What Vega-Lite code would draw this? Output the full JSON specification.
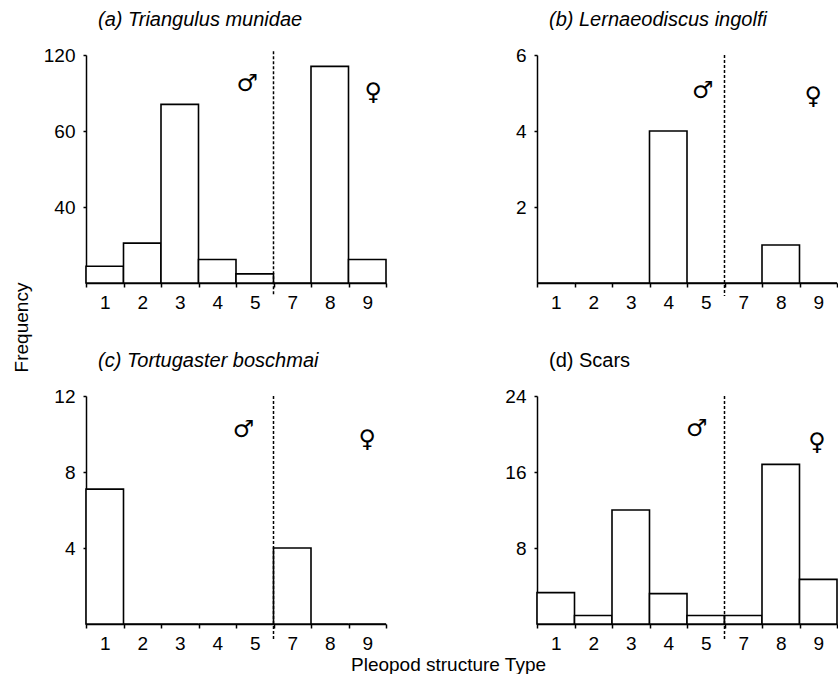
{
  "$schema": "https://vega.github.io/schema/vega-lite/v6.json",
  "padding": {"left": 12, "top": 10, "right": 0, "bottom": 0},
  "background": "white",
  "datasets": {
    "a": [
      {"type": "1", "freq": 8.8}, {"type": "2", "freq": 21}, {"type": "3", "freq": 94}, {"type": "4", "freq": 12.4},
      {"type": "5", "freq": 4.8}, {"type": "7", "freq": 0}, {"type": "8", "freq": 114}, {"type": "9", "freq": 12.4}
    ],
    "b": [
      {"type": "1", "freq": 0}, {"type": "2", "freq": 0}, {"type": "3", "freq": 0}, {"type": "4", "freq": 4},
      {"type": "5", "freq": 0}, {"type": "7", "freq": 0}, {"type": "8", "freq": 1}, {"type": "9", "freq": 0}
    ],
    "c": [
      {"type": "1", "freq": 7.1}, {"type": "2", "freq": 0}, {"type": "3", "freq": 0}, {"type": "4", "freq": 0},
      {"type": "5", "freq": 0}, {"type": "7", "freq": 4}, {"type": "8", "freq": 0}, {"type": "9", "freq": 0}
    ],
    "d": [
      {"type": "1", "freq": 3.3}, {"type": "2", "freq": 0.9}, {"type": "3", "freq": 12}, {"type": "4", "freq": 3.2},
      {"type": "5", "freq": 0.9}, {"type": "7", "freq": 0.9}, {"type": "8", "freq": 16.8}, {"type": "9", "freq": 4.7}
    ],
    "one": [{}]
  },
  "columns": 2,
  "spacing": {"row": 113, "column": 151},
  "bounds": "flush",
  "concat": [
    {
      "width": 300, "height": 228,
      "title": {"text": "(a) Triangulus munidae", "fontStyle": "italic"},
      "layer": [
        {
          "data": {"name": "a"},
          "mark": {"type": "bar", "fill": "white", "stroke": "black", "strokeWidth": 1.6},
          "encoding": {
            "x": {"field": "type", "type": "ordinal", "scale": {"domain": ["1","2","3","4","5","7","8","9"], "paddingInner": 0, "paddingOuter": 0}, "axis": {"title": null}},
            "y": {"field": "freq", "type": "quantitative", "scale": {"domain": [0, 120]},
                  "axis": {"title": "Frequency", "values": [40, 80, 120], "labelExpr": "datum.value == 80 ? '60' : datum.label", "titleX": -65, "titleY": 272, "titleAngle": -90, "titleBaseline": "middle", "titleAlign": "center"}}
          }
        },
        {
          "data": {"name": "one"},
          "mark": {"type": "rule", "strokeDash": [3, 2], "strokeWidth": 1.5, "color": "black", "clip": false},
          "encoding": {"x": {"datum": "7", "type": "ordinal", "bandPosition": 0}, "y": {"datum": 122, "type": "quantitative"}, "y2": {"datum": -7}}
        },
        {
          "data": {"name": "one"},
          "mark": {"type": "text", "text": "♂", "font": "DejaVu Sans", "fontSize": 24, "color": "black"},
          "encoding": {"x": {"datum": "5", "type": "ordinal", "bandPosition": 0.3}, "y": {"datum": 105, "type": "quantitative"}}
        },
        {
          "data": {"name": "one"},
          "mark": {"type": "text", "text": "♀", "font": "DejaVu Sans", "fontSize": 24, "color": "black"},
          "encoding": {"x": {"datum": "9", "type": "ordinal", "bandPosition": 0.66}, "y": {"datum": 100, "type": "quantitative"}}
        }
      ]
    },
    {
      "width": 300, "height": 228,
      "title": {"text": "(b) Lernaeodiscus ingolfi", "fontStyle": "italic"},
      "layer": [
        {
          "data": {"name": "b"},
          "mark": {"type": "bar", "fill": "white", "stroke": "black", "strokeWidth": 1.6},
          "encoding": {
            "x": {"field": "type", "type": "ordinal", "scale": {"domain": ["1","2","3","4","5","7","8","9"], "paddingInner": 0, "paddingOuter": 0}, "axis": {"title": null}},
            "y": {"field": "freq", "type": "quantitative", "scale": {"domain": [0, 6]}, "axis": {"title": null, "values": [2, 4, 6]}}
          }
        },
        {
          "data": {"name": "one"},
          "mark": {"type": "rule", "strokeDash": [3, 2], "strokeWidth": 1.5, "color": "black", "clip": false},
          "encoding": {"x": {"datum": "7", "type": "ordinal", "bandPosition": 0}, "y": {"datum": 6, "type": "quantitative"}, "y2": {"datum": -0.34}}
        },
        {
          "data": {"name": "one"},
          "mark": {"type": "text", "text": "♂", "font": "DejaVu Sans", "fontSize": 24, "color": "black"},
          "encoding": {"x": {"datum": "5", "type": "ordinal", "bandPosition": 0.42}, "y": {"datum": 5.05, "type": "quantitative"}}
        },
        {
          "data": {"name": "one"},
          "mark": {"type": "text", "text": "♀", "font": "DejaVu Sans", "fontSize": 24, "color": "black"},
          "encoding": {"x": {"datum": "9", "type": "ordinal", "bandPosition": 0.37}, "y": {"datum": 4.9, "type": "quantitative"}}
        }
      ]
    },
    {
      "width": 300, "height": 228,
      "title": {"text": "(c) Tortugaster boschmai", "fontStyle": "italic"},
      "layer": [
        {
          "data": {"name": "c"},
          "mark": {"type": "bar", "fill": "white", "stroke": "black", "strokeWidth": 1.6},
          "encoding": {
            "x": {"field": "type", "type": "ordinal", "scale": {"domain": ["1","2","3","4","5","7","8","9"], "paddingInner": 0, "paddingOuter": 0},
                  "axis": {"title": "Pleopod structure Type", "titleX": 362, "titleY": 40, "titleBaseline": "middle", "titleAlign": "center"}},
            "y": {"field": "freq", "type": "quantitative", "scale": {"domain": [0, 12]}, "axis": {"title": null, "values": [4, 8, 12]}}
          }
        },
        {
          "data": {"name": "one"},
          "mark": {"type": "rule", "strokeDash": [3, 2], "strokeWidth": 1.5, "color": "black", "clip": false},
          "encoding": {"x": {"datum": "7", "type": "ordinal", "bandPosition": 0}, "y": {"datum": 12, "type": "quantitative"}, "y2": {"datum": -0.9}}
        },
        {
          "data": {"name": "one"},
          "mark": {"type": "text", "text": "♂", "font": "DejaVu Sans", "fontSize": 24, "color": "black"},
          "encoding": {"x": {"datum": "5", "type": "ordinal", "bandPosition": 0.2}, "y": {"datum": 10.2, "type": "quantitative"}}
        },
        {
          "data": {"name": "one"},
          "mark": {"type": "text", "text": "♀", "font": "DejaVu Sans", "fontSize": 24, "color": "black"},
          "encoding": {"x": {"datum": "9", "type": "ordinal", "bandPosition": 0.5}, "y": {"datum": 9.7, "type": "quantitative"}}
        }
      ]
    },
    {
      "width": 300, "height": 228,
      "title": {"text": "(d) Scars"},
      "layer": [
        {
          "data": {"name": "d"},
          "mark": {"type": "bar", "fill": "white", "stroke": "black", "strokeWidth": 1.6},
          "encoding": {
            "x": {"field": "type", "type": "ordinal", "scale": {"domain": ["1","2","3","4","5","7","8","9"], "paddingInner": 0, "paddingOuter": 0}, "axis": {"title": null}},
            "y": {"field": "freq", "type": "quantitative", "scale": {"domain": [0, 24]}, "axis": {"title": null, "values": [8, 16, 24]}}
          }
        },
        {
          "data": {"name": "one"},
          "mark": {"type": "rule", "strokeDash": [3, 2], "strokeWidth": 1.5, "color": "black", "clip": false},
          "encoding": {"x": {"datum": "7", "type": "ordinal", "bandPosition": 0}, "y": {"datum": 24, "type": "quantitative"}, "y2": {"datum": -1.7}}
        },
        {
          "data": {"name": "one"},
          "mark": {"type": "text", "text": "♂", "font": "DejaVu Sans", "fontSize": 24, "color": "black"},
          "encoding": {"x": {"datum": "5", "type": "ordinal", "bandPosition": 0.26}, "y": {"datum": 20.5, "type": "quantitative"}}
        },
        {
          "data": {"name": "one"},
          "mark": {"type": "text", "text": "♀", "font": "DejaVu Sans", "fontSize": 24, "color": "black"},
          "encoding": {"x": {"datum": "9", "type": "ordinal", "bandPosition": 0.47}, "y": {"datum": 19.1, "type": "quantitative"}}
        }
      ]
    }
  ],
  "config": {
    "font": "Liberation Sans",
    "view": {"stroke": null},
    "axis": {
      "grid": false, "domainColor": "black", "domainWidth": 1.5, "tickColor": "black", "tickWidth": 1.5,
      "labelColor": "black", "labelFontSize": 19, "titleColor": "black", "titleFontSize": 19, "titleFontWeight": "normal"
    },
    "axisX": {"labelAngle": 0, "tickBand": "extent", "tickSize": 4, "labelPadding": 6},
    "axisY": {"tickSize": 3, "labelPadding": 8},
    "title": {"fontSize": 20, "fontWeight": "normal", "anchor": "start", "frame": "group", "dx": 12, "offset": 16, "color": "black"}
  }
}
